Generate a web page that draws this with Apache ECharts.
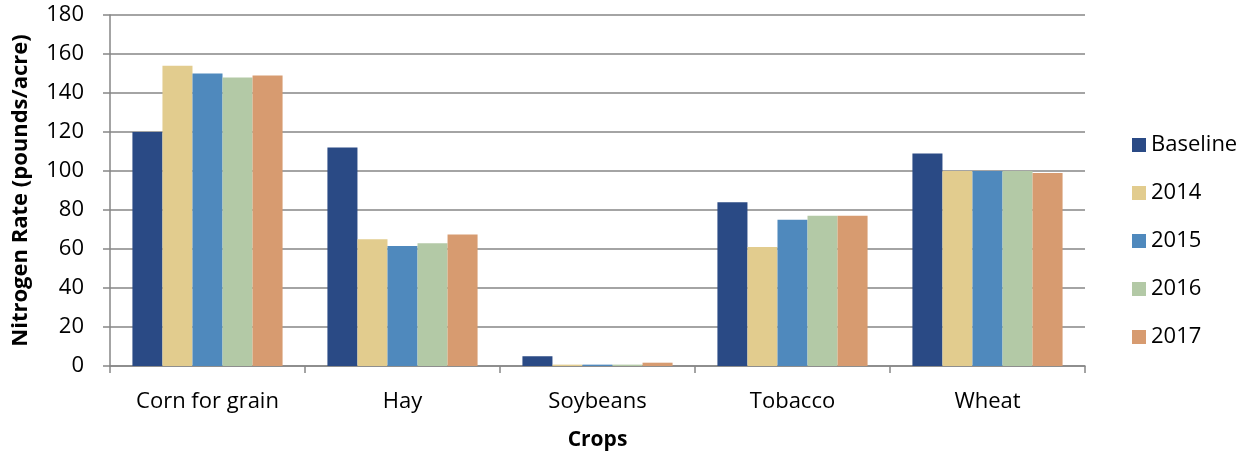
<!DOCTYPE html>
<html><head><meta charset="utf-8">
<script src="https://cdn.jsdelivr.net/npm/echarts@6/dist/echarts.min.js"></script>
<style>html,body{margin:0;padding:0;background:#fff}#c{width:1253px;height:456px}</style>
</head><body><div id="c"></div>
<script>
const categories = ["Corn for grain", "Hay", "Soybeans", "Tobacco", "Wheat"];
const seriesNames = ["Baseline", "2014", "2015", "2016", "2017"];
const baseline = [120, 112, 5, 84, 109];
const y2014 = [154, 65, 0.7, 61, 100];
const y2015 = [150, 61.5, 0.7, 75, 100];
const y2016 = [148, 63, 0.7, 77, 100];
const y2017 = [149, 67.5, 1.7, 77, 99];
const colors = ["#2A4A85", "#E2CC8E", "#4F89BD", "#B3C9A6", "#D79B70"];
const values = [baseline, y2014, y2015, y2016, y2017];
const font = "'Open Sans', 'Liberation Sans', sans-serif";

const chart = echarts.init(document.getElementById('c'));
chart.setOption({
  animation: false,
  textStyle: {fontFamily: font},
  grid: {left: 110, right: 168, top: 15, bottom: 90, containLabel: false, outerBoundsMode: 'none'},
  legend: {
    orient: 'vertical', left: 1127, top: 129, itemGap: 26,
    itemWidth: 14, itemHeight: 14, icon: 'rect',
    textStyle: {fontSize: 22, lineHeight: 22, color: '#000', fontFamily: font},
    data: seriesNames
  },
  xAxis: {
    type: 'category', data: categories,
    name: 'Crops', nameLocation: 'middle', nameGap: 64,
    nameTextStyle: {fontSize: 21, fontWeight: 'bold', color: '#000', fontFamily: font},
    axisLine: {lineStyle: {color: '#868686', width: 1.5}},
    axisTick: {show: true, length: 7, lineStyle: {color: '#868686', width: 1.5}},
    axisLabel: {fontSize: 22, color: '#000', margin: 25, fontFamily: font}
  },
  yAxis: {
    type: 'value', min: 0, max: 180, interval: 20,
    name: 'Nitrogen Rate (pounds/acre)', nameLocation: 'middle', nameGap: 78, nameRotate: 90,
    nameTextStyle: {fontSize: 22, fontWeight: 'bold', color: '#000', fontFamily: font},
    axisLine: {show: true, lineStyle: {color: '#868686', width: 1.5}},
    axisTick: {show: true, length: 7, lineStyle: {color: '#868686', width: 1.5}},
    axisLabel: {fontSize: 22, color: '#000', margin: 26, fontFamily: font},
    splitLine: {lineStyle: {color: '#868686', width: 1.5}}
  },
  series: seriesNames.map((n, i) => ({
    name: n, type: 'bar', data: values[i],
    barGap: '0%', barCategoryGap: '23%',
    itemStyle: {color: colors[i]}
  }))
});
</script></body></html>
